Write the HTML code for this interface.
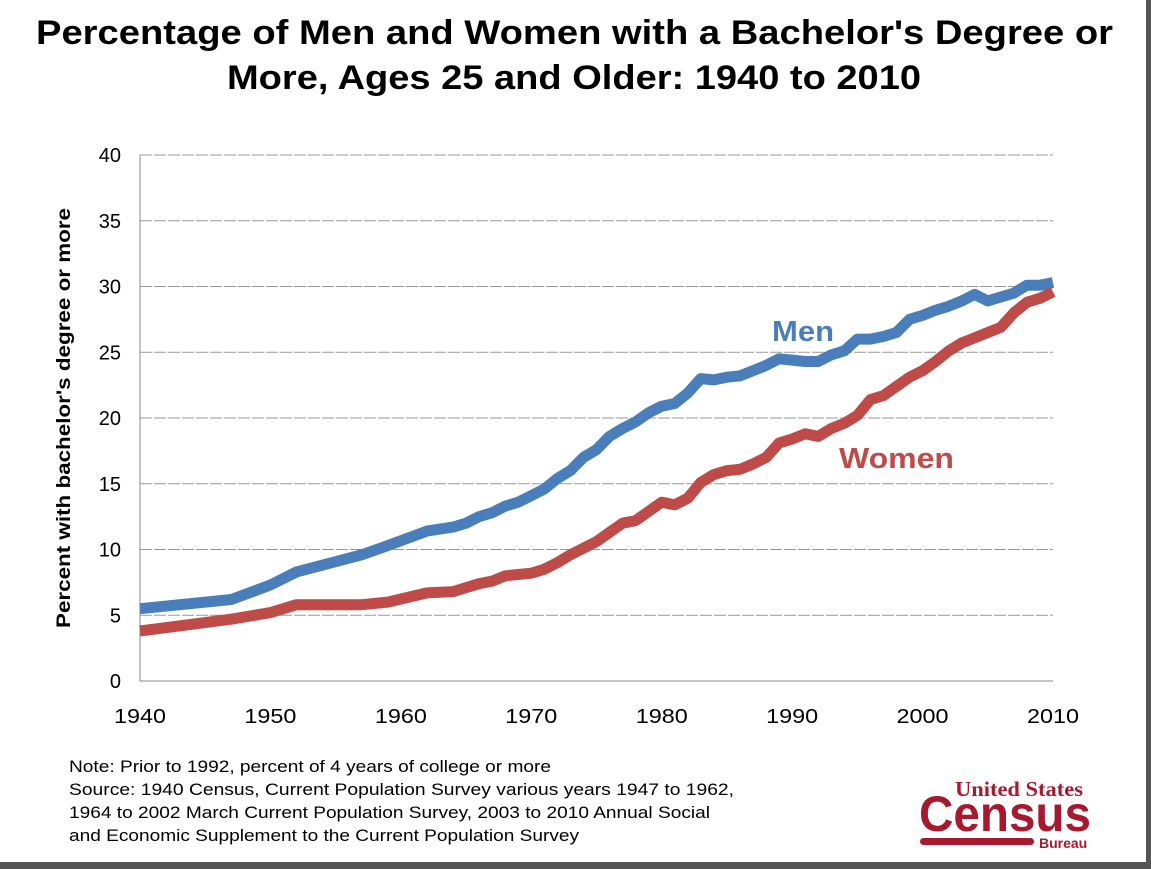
<!DOCTYPE html>
<html><head><meta charset="utf-8"><style>
body{margin:0;background:#fff;}
#c{position:relative;width:1151px;height:869px;overflow:hidden;background:#fff;font-family:"Liberation Sans",Arial,sans-serif;}
</style></head><body><div id="c">
<svg id="s" width="1151" height="869" xmlns="http://www.w3.org/2000/svg" style="position:absolute;left:0;top:0">
<rect x="1146" y="0" width="5" height="869" fill="#555"/>
<rect x="0" y="862" width="1151" height="7" fill="#555"/>
<text x="36" y="44" font-size="34" font-weight="bold" fill="#000" textLength="1077" lengthAdjust="spacingAndGlyphs">Percentage of Men and Women with a Bachelor's Degree or</text>
<text x="227" y="89" font-size="34" font-weight="bold" fill="#000" textLength="694" lengthAdjust="spacingAndGlyphs">More, Ages 25 and Older: 1940 to 2010</text>
<g id="grid"></g>
<line x1="140" y1="155" x2="140" y2="681" stroke="#888" stroke-width="1"/>
<line x1="140" y1="681" x2="1053" y2="681" stroke="#888" stroke-width="1"/>
<g id="yl" font-size="20" text-anchor="end" fill="#000"></g>
<g id="xl" font-size="20" text-anchor="middle" fill="#000"></g>
<text transform="translate(70,418) rotate(-90)" font-size="19" font-weight="bold" x="-210" textLength="420" lengthAdjust="spacingAndGlyphs">Percent with bachelor's degree or more</text>
<polyline id="men" fill="none" stroke="#4a7ebb" stroke-width="11" stroke-linejoin="round"/>
<polyline id="wom" fill="none" stroke="#be4b48" stroke-width="11" stroke-linejoin="round"/>
<text x="772" y="341" font-size="29" font-weight="bold" fill="#4a7ebb" textLength="62" lengthAdjust="spacingAndGlyphs">Men</text>
<text x="839" y="468" font-size="29" font-weight="bold" fill="#be4b48" textLength="115" lengthAdjust="spacingAndGlyphs">Women</text>
<g font-size="17" fill="#000">
<text x="69" y="772" textLength="482" lengthAdjust="spacingAndGlyphs">Note: Prior to 1992, percent of 4 years of college or more</text>
<text x="69" y="795" textLength="665" lengthAdjust="spacingAndGlyphs">Source:  1940 Census, Current Population Survey various years 1947 to 1962,</text>
<text x="69" y="818" textLength="641" lengthAdjust="spacingAndGlyphs">1964 to 2002 March Current Population Survey, 2003 to 2010 Annual Social</text>
<text x="69" y="841" textLength="510" lengthAdjust="spacingAndGlyphs">and Economic Supplement to the Current Population Survey</text>
</g>
<g fill="#a6192e" font-weight="bold">
<text x="955" y="796" font-size="21" font-family="Liberation Serif,serif" textLength="128" lengthAdjust="spacingAndGlyphs">United States</text>
<text x="919" y="831" font-size="50" font-family="Liberation Sans Narrow,Liberation Sans,sans-serif" textLength="172" lengthAdjust="spacingAndGlyphs">Census</text>
<rect x="920" y="838" width="114" height="7" rx="3.5"/>
<text x="1039" y="848" font-size="14">Bureau</text>
</g>
</svg>
<script>
var X=function(y){return 140+(y-1940)*913/70},Y=function(v){return 681-v*526/40};
var g='',yl='',xl='';
for(var v=5;v<=40;v+=5){g+='<line x1="140" x2="1053" y1="'+Y(v)+'" y2="'+Y(v)+'" stroke="#999" stroke-dasharray="12,2"/>';}
for(var v=0;v<=40;v+=5){yl+='<text x="121" y="'+(Y(v)+7)+'">'+v+'</text>';}
for(var y=1940;y<=2010;y+=10){xl+='<text x="'+X(y)+'" y="723" textLength="52" lengthAdjust="spacingAndGlyphs">'+y+'</text>';}
document.getElementById('grid').innerHTML=g;
document.getElementById('yl').innerHTML=yl;
document.getElementById('xl').innerHTML=xl;
var yrs=[1940,1947,1950,1952,1957,1959,1962];for(var y=1964;y<=2010;y++)yrs.push(y);
var m=[5.5,6.2,7.3,8.3,9.6,10.3,11.4,11.7,12.0,12.5,12.8,13.3,13.6,14.1,14.6,15.4,16.0,17.0,17.6,18.6,19.2,19.7,20.4,20.9,21.1,21.9,23.0,22.9,23.1,23.2,23.6,24.0,24.5,24.4,24.3,24.3,24.8,25.1,26.0,26.0,26.2,26.5,27.5,27.8,28.2,28.5,28.9,29.4,28.9,29.2,29.5,30.1,30.1,30.3];
var w=[3.8,4.7,5.2,5.8,5.8,6.0,6.7,6.8,7.1,7.4,7.6,8.0,8.1,8.2,8.5,9.0,9.6,10.1,10.6,11.3,12.0,12.2,12.9,13.6,13.4,13.9,15.1,15.7,16.0,16.1,16.5,17.0,18.1,18.4,18.8,18.6,19.2,19.6,20.2,21.4,21.7,22.4,23.1,23.6,24.3,25.1,25.7,26.1,26.5,26.9,28.0,28.8,29.1,29.6];
function pts(a){return yrs.map(function(y,i){return X(y).toFixed(1)+','+Y(a[i]).toFixed(1)}).join(' ')}
document.getElementById('men').setAttribute('points',pts(m));
document.getElementById('wom').setAttribute('points',pts(w));
</script>
</div></body></html>
